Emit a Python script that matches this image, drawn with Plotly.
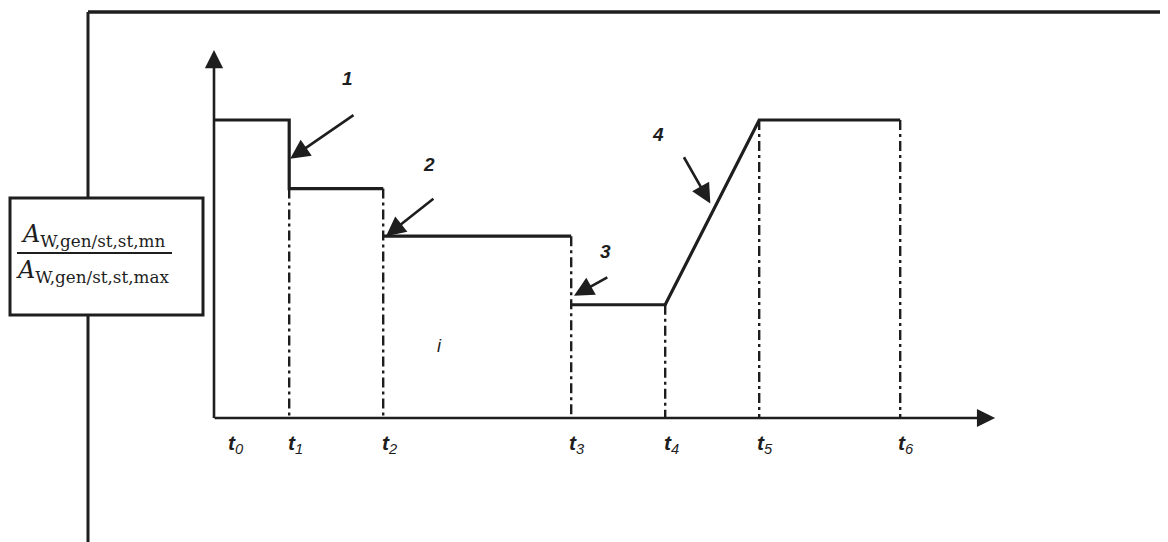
import plotly.graph_objects as go

# time marks on the horizontal axis and the normalised levels
t_names = ["0", "1", "2", "3", "4", "5", "6"]
t_vals = [0.0, 0.8, 1.8, 3.8, 4.8, 5.8, 7.3]
levels = [1.0, 0.77, 0.61, 0.38]

# arrow callouts: label, tip (x, y), tail (x, y)
call_names = ["1", "2", "3", "4"]
call_tip = [(0.81, 0.87), (1.83, 0.61), (3.83, 0.41), (5.28, 0.72)]
call_tail = [(1.5, 1.02), (2.35, 0.74), (4.2, 0.475), (4.99, 0.88)]
call_lbl = [(1.42, 1.14), (2.29, 0.85), (4.16, 0.56), (4.72, 0.95)]

ink = "#1e1e1e"
# the page body adds an 8px margin, so the figure is 8px smaller
OFF = 8
FW, FH = 1168 - OFF, 542 - OFF
x0px, ux = 214 - OFF, 94.0
y0px, uy = 418 - OFF, 298.0


def px(x):
    return (x - OFF) / FW


def py(y):
    return 1 - (y - OFF) / FH


fig = go.Figure()

# solid step profile
L0, L1, L2, L3 = levels
sx = [t_vals[0], t_vals[1], t_vals[1], t_vals[2], None,
      t_vals[2], t_vals[3], None,
      t_vals[3], t_vals[4], t_vals[5], t_vals[6]]
sy = [L0, L0, L1, L1, None, L2, L2, None, L3, L3, L0, L0]
fig.add_trace(go.Scatter(x=sx, y=sy, mode="lines",
                         line=dict(color=ink, width=3.2), hoverinfo="skip"))

# dash-dot drop lines
tops = [L1, L1, L2, L3, L0, L0]
dx, dy = [], []
for t, top in zip(t_vals[1:], tops):
    dx += [t, t, None]
    dy += [top, 0, None]
fig.add_trace(go.Scatter(x=dx, y=dy, mode="lines",
                         line=dict(color=ink, width=2.4, dash="10px,4px,3px,4px"),
                         hoverinfo="skip"))

ann = []
# axes with arrow heads
ann.append(dict(x=0, y=1.235, ax=0, ay=-0.005, xref="x", yref="y", axref="x", ayref="y",
                showarrow=True, arrowhead=2, arrowsize=1.4, arrowwidth=2.6,
                arrowcolor=ink, text=""))
ann.append(dict(x=8.31, y=0, ax=-0.01, ay=0, xref="x", yref="y", axref="x", ayref="y",
                showarrow=True, arrowhead=2, arrowsize=1.4, arrowwidth=2.6,
                arrowcolor=ink, text=""))

# time labels
for i, (n, t) in enumerate(zip(t_names, t_vals)):
    ann.append(dict(x=t, y=0, xref="x", yref="y", showarrow=False,
                    text="<b><i>t</i></b><i><sub>" + n + "</sub></i>",
                    font=dict(family="Liberation Sans", size=21, color=ink),
                    xshift=22 if i == 0 else 6, yshift=-26))

# numbered arrows
for n, tip, tail, lb in zip(call_names, call_tip, call_tail, call_lbl):
    ann.append(dict(x=tip[0], y=tip[1], ax=tail[0], ay=tail[1],
                    xref="x", yref="y", axref="x", ayref="y",
                    showarrow=True, arrowhead=2, arrowsize=1.5, arrowwidth=2.6,
                    arrowcolor=ink, text=""))
    ann.append(dict(x=lb[0], y=lb[1], xref="x", yref="y", showarrow=False,
                    text="<b><i>" + n + "</i></b>",
                    font=dict(family="Liberation Sans", size=19, color=ink)))

ann.append(dict(x=2.4, y=0.24, xref="x", yref="y", showarrow=False, text="<i>i</i>",
                font=dict(family="Liberation Sans", size=18, color=ink)))

# ratio label in the box
ann.append(dict(x=px(93), y=py(235), xref="paper", yref="paper", showarrow=False,
                xanchor="center", yanchor="middle",
                text="<i>A</i><sub>W,gen/st,st,mn</sub>",
                font=dict(family="DejaVu Serif", size=24, color=ink)))
ann.append(dict(x=px(93), y=py(271), xref="paper", yref="paper", showarrow=False,
                xanchor="center", yanchor="middle",
                text="<i>A</i><sub>W,gen/st,st,max</sub>",
                font=dict(family="DejaVu Serif", size=24, color=ink)))

shapes = [
    # outer frame (top and left edges)
    dict(type="line", xref="paper", yref="paper", x0=px(88), x1=1.0,
         y0=py(12), y1=py(12), line=dict(color=ink, width=3.5)),
    dict(type="line", xref="paper", yref="paper", x0=px(88), x1=px(88),
         y0=0, y1=py(12), line=dict(color=ink, width=3)),
    # label box
    dict(type="rect", xref="paper", yref="paper", x0=px(10), x1=px(203),
         y0=py(315), y1=py(198), fillcolor="white",
         line=dict(color=ink, width=3)),
    dict(type="line", xref="paper", yref="paper", x0=px(17), x1=px(172),
         y0=py(253), y1=py(253), line=dict(color=ink, width=2)),
]

fig.update_layout(
    width=FW, height=FH, margin=dict(l=0, r=0, t=0, b=0),
    paper_bgcolor="white", plot_bgcolor="white", showlegend=False,
    xaxis=dict(range=[-x0px / ux, (FW - x0px) / ux], visible=False, fixedrange=True),
    yaxis=dict(range=[-(FH - y0px) / uy, y0px / uy], visible=False, fixedrange=True),
    annotations=ann, shapes=shapes,
)

fig.write_html("out.html")
